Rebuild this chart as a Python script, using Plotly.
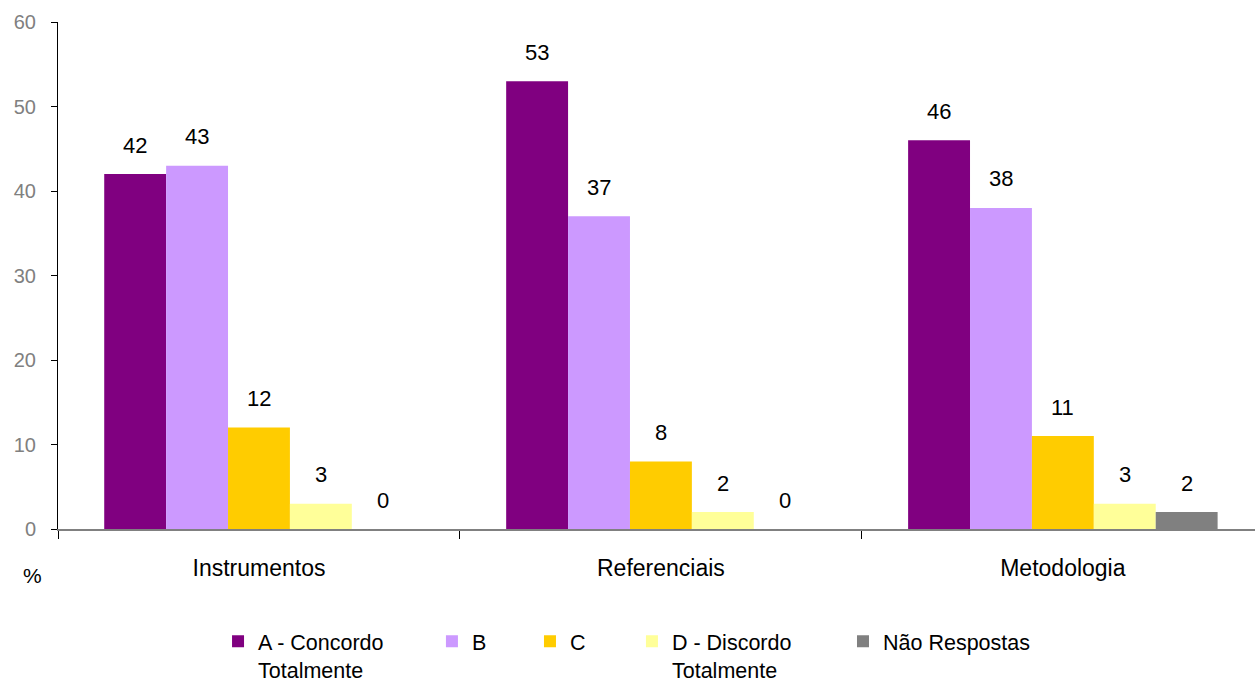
import plotly.graph_objects as go

# Survey results (%) per topic and answer option
categories = ["Instrumentos", "Referenciais", "Metodologia"]
series_names = ["A - Concordo<br>Totalmente", "B", "C", "D - Discordo<br>Totalmente", "Não Respostas"]
vals_a = [42, 53, 46]
vals_b = [43, 37, 38]
vals_c = [12, 8, 11]
vals_d = [3, 2, 3]
vals_nr = [0, 0, 2]
y_ticks = [0, 10, 20, 30, 40, 50, 60]

series_values = [vals_a, vals_b, vals_c, vals_d, vals_nr]
colors = ["#800080", "#CC99FF", "#FFCC00", "#FFFF99", "#808080"]
legend_ids = ["legend", "legend2", "legend3", "legend4", "legend5"]
legend_x = [0.1337, 0.3124, 0.3943, 0.4795, 0.6558]

FONT = "Liberation Sans"
BARGAP = 0.23

fig = go.Figure()
for name, vals, col, lg in zip(series_names, series_values, colors, legend_ids):
    fig.add_trace(go.Bar(
        x=categories, y=vals, name=name,
        marker=dict(color=col, line=dict(width=0)),
        legend=lg,
    ))

# value labels above each bar
n = len(series_values)
w = (1 - BARGAP) / n
annotations = []
for j, vals in enumerate(series_values):
    for i, v in enumerate(vals):
        annotations.append(dict(
            x=i + (j - (n - 1) / 2) * w, y=v, xref="x", yref="y",
            text=str(v), showarrow=False, yshift=29, yanchor="middle",
            font=dict(family=FONT, size=22, color="#000000"),
        ))

annotations.append(dict(
    x=-0.021, y=-0.091, xref="paper", yref="paper", text="%",
    showarrow=False, xanchor="center", yanchor="middle",
    font=dict(family=FONT, size=21, color="#000000"),
))

layout_legends = {}
for lg, lx in zip(legend_ids, legend_x):
    layout_legends[lg] = dict(
        x=lx, y=-0.181, xanchor="left", yanchor="top", orientation="h",
        valign="top",
        font=dict(family=FONT, size=21.5, color="#000000"),
        bgcolor="rgba(0,0,0,0)", borderwidth=0, itemclick=False,
    )

fig.update_layout(
    width=1255, height=682,
    margin=dict(l=58, r=0, t=22, b=153, autoexpand=False),
    paper_bgcolor="white", plot_bgcolor="white",
    barmode="group", bargap=BARGAP, bargroupgap=0,
    showlegend=True,
    annotations=annotations,
    font=dict(family=FONT, size=20, color="#000000"),
    **layout_legends,
)

fig.update_xaxes(
    range=[-0.5, 2.478],
    showline=True, linecolor="#808080", linewidth=2,
    ticks="outside", tickson="boundaries", ticklen=8, tickcolor="#000000", tickwidth=1,
    showgrid=False, zeroline=False,
    tickfont=dict(family=FONT, size=23, color="#000000"),
    ticklabelstandoff=17,
)
fig.update_yaxes(
    range=[0, 60], tickvals=y_ticks,
    showline=True, linecolor="#000000", linewidth=1,
    ticks="outside", ticklen=6, tickcolor="#000000",
    showgrid=False, zeroline=False,
    tickfont=dict(family=FONT, size=20, color="#808080"),
    ticklabelstandoff=11,
)

fig.write_html("out.html")
